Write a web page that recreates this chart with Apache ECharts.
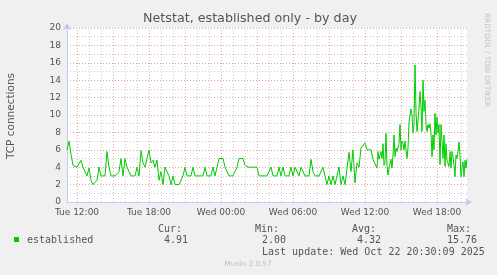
<!DOCTYPE html>
<html><head><meta charset="utf-8">
<script src="https://cdn.jsdelivr.net/npm/echarts@6/dist/echarts.min.js"></script>
<style>html,body{margin:0;padding:0;background:#f0f0f0}#c{width:497px;height:275px}</style>
</head><body><div id="c"></div>
<script>
// time in minutes since Tue 00:00
const startMinute = 670;      // Tue 11:10
const endMinute = 2670;       // Wed 20:30
const coarseStep = 10;        // samples every 10 min (Tue 11:10 .. Wed 12:50)
const coarseValues = [
  6,7,5.5,4.2,4,4,4,4.8,4,4,3,3.9,2.5,2,2,2.5,4,3,3,3,
  5.8,4,3,3,3,3,3.5,5,3,5,4,4,3,3,3,4,3,5.9,4.5,4,
  4,6,4.5,4.8,4,4.8,2.5,3.5,2,4,4,3,2,3,2,2,2,2,3,4,
  3,3,3,4,3,3,3,3,3,4,3,3,3,4,3,4,5,5,5,4,
  4,3,3,3,3.5,4,5,5,5,4.2,4,4,4,4,4,4,3,3,3,3,
  3,3,4,3,3,3,4,3,4,3,3,3,4,3,4,4,3,4,4,3,
  3,3,4.9,3.5,3,3,3,3,4,4,2,3,2,3,2,3,4,2,3,2,
  2,5.7,3.5,6,2.2,4.5,4,6.2,6.2,6.8,6,6.2,6,4.9,5
];
const fineStartMinute = 2220; // Wed 13:00
const fineStep = 5;           // samples every 5 min (Wed 13:00 .. 20:30)
const fineValues = [
  3.9,5.8,4.9,5,5.8,5,6.7,4.2,4.5,7.9,4.2,3.1,3.9,3.9,4.9,3.9,5.4,7.7,5.2,6.2,
  5.8,6,6.7,8.9,6,7,6.7,6,7,6,5,6.2,9.2,9,10.7,10,7.9,8.9,15.76,10.4,
  8.1,7.9,10.8,12.7,10.9,8.1,14,10.4,11.7,8.9,8.1,8.9,8.5,9,7.9,5.2,7.7,6,10.2,7.7,
  9.8,7.9,8.9,4.3,8.9,7,5,7.7,4.1,6.7,4.8,5,4.1,5.8,3.9,5.8,5.2,4.2,2.9,5.4,
  5,5.8,6.9,5.4,2.9,3.9,4.6,2.9,4.8,3.9,4.91
];
const xLabelMinutes = [720, 1080, 1440, 1800, 2160, 2520];
const dayNames = ['Tue', 'Wed'];
const statHeaders = ['Cur:', 'Min:', 'Avg:', 'Max:'];
const statValues = ['4.91', '2.00', '4.32', '15.76'];
const seriesName = 'established';
const titleText = 'Netstat, established only - by day';
const yAxisTitle = 'TCP connections';
const lastUpdate = 'Last update: Wed Oct 22 20:30:09 2025';

const data = [];
coarseValues.forEach((v, i) => data.push([startMinute + i * coarseStep, v]));
fineValues.forEach((v, i) => data.push([fineStartMinute + i * fineStep, v]));

const MAJOR = 'rgba(222,130,130,0.75)';
const MINOR = 'rgba(170,170,170,0.6)';
const hourLines = [];
for (let m = Math.ceil(startMinute / 60) * 60; m < endMinute; m += 60) {
  hourLines.push({ xAxis: m, lineStyle: { color: (m / 60) % 3 === 0 ? MAJOR : MINOR, type: [1, 2], width: 1 } });
}

const chart = echarts.init(document.getElementById('c'), null, { renderer: 'canvas' });
const AXIS = '#c6c6f2';
const TXT = '#555';
const mono = '10px "DejaVu Sans Mono"';
const colX = [158, 255, 352, 447];
const valX = [164, 262, 357, 447];
const graphics = [
  { type: 'text', x: 250, y: 19, style: { text: titleText, font: '12.7px "DejaVu Sans"', fill: TXT, align: 'center', verticalAlign: 'middle' } },
  { type: 'text', x: 11, y: 116, rotation: Math.PI / 2, style: { text: yAxisTitle, font: '10.5px "DejaVu Sans"', fill: TXT, align: 'center', verticalAlign: 'middle' } },
  { type: 'text', x: 487, y: 60, rotation: -Math.PI / 2, style: { text: 'RRDTOOL / TOBI OETIKER', font: '7.3px "DejaVu Sans"', fill: '#c4c4c4', align: 'center', verticalAlign: 'middle' } },
  { type: 'rect', shape: { x: 14, y: 237, width: 5, height: 5 }, style: { fill: '#00cc00' } },
  { type: 'text', x: 27, y: 240.5, style: { text: seriesName, font: mono, fill: TXT, align: 'left', verticalAlign: 'middle' } },
  { type: 'text', x: 262, y: 252, style: { text: lastUpdate, font: mono, fill: TXT, align: 'left', verticalAlign: 'middle' } },
  { type: 'text', x: 248, y: 264, style: { text: 'Munin 2.0.57', font: '7.2px "DejaVu Sans"', fill: '#c0c0c0', align: 'center', verticalAlign: 'middle' } }
];
statHeaders.forEach((h, i) => graphics.push({ type: 'text', x: colX[i], y: 229, style: { text: h, font: mono, fill: TXT, align: 'left', verticalAlign: 'middle' } }));
statValues.forEach((v, i) => graphics.push({ type: 'text', x: valX[i], y: 240.5, style: { text: v, font: mono, fill: TXT, align: 'left', verticalAlign: 'middle' } }));

chart.setOption({
  animation: false,
  backgroundColor: '#f0f0f0',
  grid: { left: 67, right: 30, top: 28, bottom: 73, show: true, backgroundColor: '#ffffff', borderWidth: 0 },
  xAxis: {
    type: 'value', min: startMinute, max: endMinute,
    splitLine: { show: false },
    axisTick: { show: false },
    axisLine: { show: true, lineStyle: { color: AXIS, width: 1 }, symbol: ['none', 'arrow'], symbolSize: [6, 7], symbolOffset: [0, 5] },
    axisLabel: {
      customValues: xLabelMinutes, margin: 6, color: TXT, fontFamily: 'DejaVu Sans', fontSize: 9,
      formatter: v => { const d = dayNames[Math.floor(v / 1440)]; const h = Math.floor((v % 1440) / 60); return d + ' ' + String(h).padStart(2, '0') + ':00'; }
    }
  },
  yAxis: {
    type: 'value', min: 0, max: 20, interval: 1,
    axisLine: { show: true, lineStyle: { color: AXIS, width: 1 }, symbol: ['none', 'arrow'], symbolSize: [6, 7], symbolOffset: [0, 5] },
    axisTick: { show: false },
    splitLine: { show: true, lineStyle: { color: [MAJOR, MINOR], type: [1, 2], width: 1 } },
    axisLabel: { margin: 6, color: TXT, fontFamily: 'DejaVu Sans', fontSize: 9, formatter: v => (v % 2 === 0 ? String(v) : '') }
  },
  series: [
    { type: 'line', data: [], silent: true, z: 1,
      markLine: { silent: true, symbol: 'none', label: { show: false }, data: hourLines, animation: false } },
    { name: seriesName, type: 'line', data: data, showSymbol: false, z: 3,
      lineStyle: { color: '#00cc00', width: 1 }, itemStyle: { color: '#00cc00' } }
  ],
  graphic: graphics
});
</script></body></html>
